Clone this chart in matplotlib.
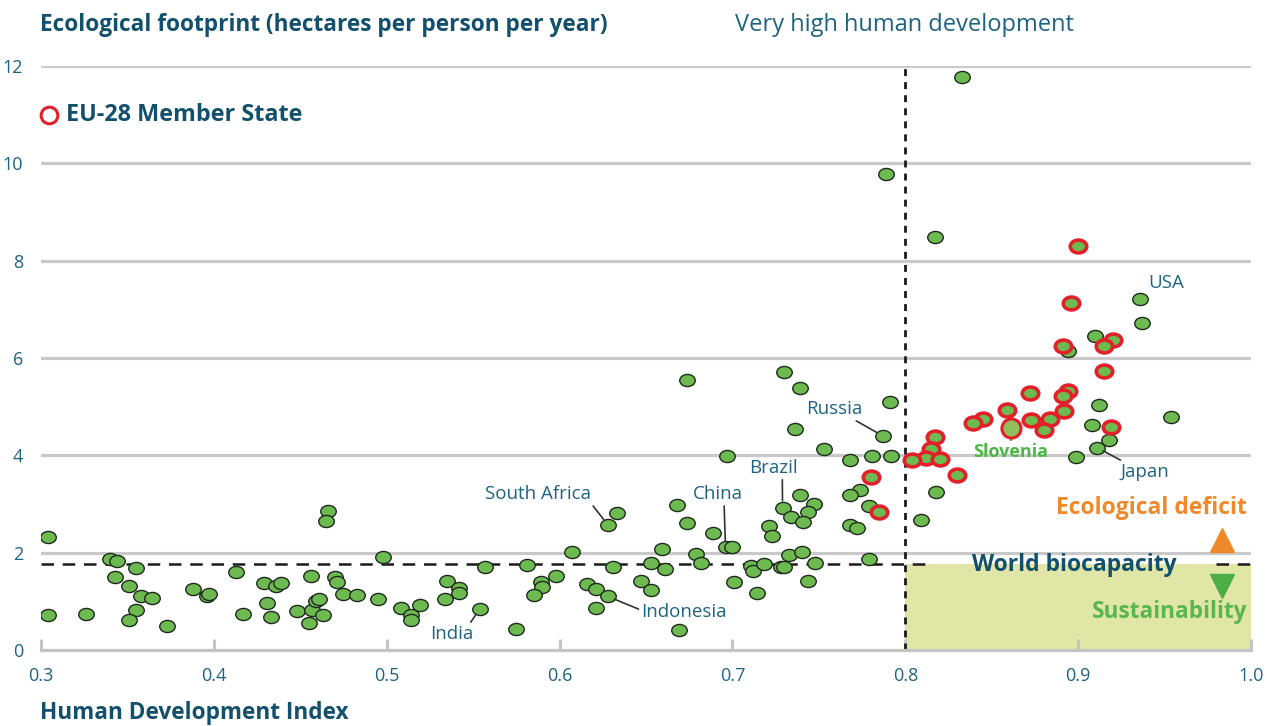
import numpy as np
import matplotlib
matplotlib.use('Agg')
import matplotlib.pyplot as plt
from matplotlib.path import Path
from matplotlib.transforms import Affine2D

# green: countries outside the EU-28
green_hdi = [0.304, 0.304, 0.326, 0.340, 0.344, 0.355, 0.343, 0.351, 0.358, 0.364,
             0.355, 0.351, 0.373, 0.388, 0.396, 0.397, 0.413, 0.417, 0.429, 0.436,
             0.439, 0.431, 0.433, 0.448, 0.456, 0.455, 0.457, 0.459, 0.461, 0.463,
             0.470, 0.471, 0.475, 0.466, 0.465,
             0.483, 0.495, 0.498, 0.508, 0.514, 0.514, 0.519, 0.535, 0.542, 0.542,
             0.534, 0.554, 0.557, 0.575, 0.581, 0.589, 0.590, 0.585, 0.598, 0.607,
             0.616, 0.621, 0.628, 0.621, 0.631, 0.633, 0.628, 0.653, 0.647, 0.653,
             0.659, 0.661, 0.669, 0.668, 0.674, 0.689, 0.696, 0.700, 0.679, 0.682,
             0.674, 0.697, 0.701, 0.711, 0.712, 0.718, 0.714, 0.721, 0.723, 0.729,
             0.734, 0.739, 0.747, 0.744, 0.741, 0.728, 0.730, 0.733, 0.740, 0.748,
             0.744, 0.730, 0.739, 0.736, 0.753, 0.791, 0.787, 0.768, 0.781, 0.792,
             0.774, 0.768, 0.779, 0.768, 0.772, 0.779, 0.789, 0.817, 0.833, 0.809,
             0.818,
             0.936, 0.937, 0.910, 0.894, 0.912, 0.954, 0.908, 0.918, 0.911, 0.899]
green_fp = [2.33, 0.71, 0.74, 1.86, 1.83, 1.68, 1.49, 1.31, 1.10, 1.07,
            0.82, 0.62, 0.49, 1.25, 1.11, 1.15, 1.60, 0.73, 1.38, 1.31,
            1.37, 0.97, 0.67, 0.81, 1.53, 0.56, 0.82, 1.01, 1.04, 0.71,
            1.49, 1.40, 1.15, 2.86, 2.66,
            1.12, 1.05, 1.92, 0.86, 0.71, 0.62, 0.92, 1.42, 1.27, 1.17,
            1.05, 0.85, 1.71, 0.43, 1.75, 1.40, 1.29, 1.14, 1.52, 2.01,
            1.36, 1.25, 1.10, 0.86, 1.71, 2.82, 2.57, 1.79, 1.42, 1.23,
            2.07, 1.67, 0.41, 2.98, 2.60, 2.40, 2.11, 2.11, 1.97, 1.78,
            5.55, 3.98, 1.39, 1.73, 1.62, 1.77, 1.18, 2.54, 2.34, 2.92,
            2.73, 3.19, 3.01, 2.84, 2.64, 1.70, 1.70, 1.95, 2.01, 1.79,
            1.41, 5.71, 5.38, 4.55, 4.14, 5.10, 4.40, 3.90, 3.99, 3.99,
            3.29, 3.18, 2.96, 2.56, 2.51, 1.87, 9.78, 8.49, 11.77, 2.68,
            3.24,
            7.22, 6.71, 6.45, 6.14, 5.03, 4.78, 4.63, 4.31, 4.16, 3.96]

# EU-28 member states (red ring)
eu_hdi = [0.900, 0.896, 0.920, 0.915, 0.891, 0.915, 0.872, 0.894, 0.891, 0.859,
          0.845, 0.839, 0.892, 0.884, 0.873, 0.880, 0.919, 0.817, 0.815, 0.812,
          0.820, 0.804, 0.830, 0.780, 0.785]
eu_fp = [8.30, 7.14, 6.36, 6.25, 6.25, 5.73, 5.29, 5.32, 5.22, 4.93,
         4.74, 4.66, 4.92, 4.74, 4.72, 4.53, 4.58, 4.38, 4.12, 3.94,
         3.93, 3.91, 3.59, 3.56, 2.83]

slovenia = (0.861, 4.56)
world_biocapacity = 1.77
very_high_hdi = 0.8

# named countries: label, point, label position
names = ['USA', 'Russia', 'Brazil', 'China', 'South Africa', 'Indonesia', 'India', 'Japan']
name_points = [(0.936, 7.22), (0.787, 4.40), (0.729, 2.92), (0.696, 2.11),
               (0.628, 2.57), (0.628, 1.10), (0.554, 0.85), (0.911, 4.16)]
name_text = [(0.951, 7.54), (0.759, 4.95), (0.7235, 3.74), (0.6914, 3.20),
             (0.5875, 3.20), (0.672, 0.78), (0.5375, 0.33), (0.9387, 3.66)]
name_relpos = [None, (0.8, 0.0), (0.69, 0.0), (0.63, 0.0),
               (1.0, 0.0), (0.0, 0.6), (0.9, 1.0), (0.1, 1.0)]

xticks = [0.3, 0.4, 0.5, 0.6, 0.7, 0.8, 0.9, 1.0]
yticks = [0, 2, 4, 6, 8, 10, 12]

teal = '#12506e'
label_col = '#1d6482'
green = '#6dba50'
red = '#e3202a'

plt.rcParams['font.family'] = ['Open Sans', 'DejaVu Sans']

fig = plt.figure(figsize=(12.67, 7.26), dpi=100)
ax = fig.add_axes([0.03236, 0.10468, 0.95501, 0.80441])
ax.set_xlim(0.3, 1.0)
ax.set_ylim(0, 12)

# slightly flattened circles
ellipse = Path.unit_circle().transformed(Affine2D().scale(1.0, 0.78))

# sustainability box
ax.fill_between([very_high_hdi, 1.0], 0, world_biocapacity, color='#dfe6a6', lw=0, zorder=1)

# grid
for y in yticks[1:]:
    ax.axhline(y, color='#c9c9c9', lw=2.3, zorder=0)

ax.plot([0.3, 0.816], [world_biocapacity] * 2, color='#1a1a1a', lw=1.8,
        dashes=(5, 3.5), zorder=2)
ax.plot([0.98, 1.0], [world_biocapacity] * 2, color='#1a1a1a', lw=1.8,
        dashes=(5, 3.5), zorder=2)
ax.plot([very_high_hdi] * 2, [0, 12], color='#1a1a1a', lw=2.0, dashes=(2.5, 2.2), zorder=2)

ax.scatter(green_hdi, green_fp, s=125, marker=ellipse, facecolor=green,
           edgecolor='#1f2a1f', linewidth=1.0, zorder=3)
ax.scatter(eu_hdi, eu_fp, s=140, marker=ellipse, facecolor=green,
           edgecolor=red, linewidth=2.6, zorder=4)
ax.scatter([slovenia[0]], [slovenia[1]], s=190, marker='o', facecolor='#8fbf5c',
           edgecolor=red, linewidth=2.2, zorder=5)

for name, pt, tp, rp in zip(names, name_points, name_text, name_relpos):
    if rp is None:
        ax.text(tp[0], tp[1], name, ha='center', va='center', fontsize=13.5, color=label_col)
    else:
        ax.annotate(name, xy=pt, xytext=tp, ha='center', va='center', fontsize=13.5,
                    color=label_col,
                    arrowprops=dict(arrowstyle='-', color='#333333', lw=1.2,
                                    relpos=rp, shrinkA=0, shrinkB=5))
ax.annotate('Slovenia', xy=slovenia, xytext=(0.8611, 4.07), ha='center', va='center',
            fontsize=13, fontweight='bold', color='#4db848',
            arrowprops=dict(arrowstyle='-', color='#333333', lw=1.2,
                            relpos=(0.5, 1.0), shrinkA=0, shrinkB=7))

# right-hand legend text
ax.text(0.9977, 2.92, 'Ecological deficit', ha='right', va='center', fontsize=16.5,
        fontweight='bold', color='#f0892a')
ax.plot([0.9832], [2.26], marker='^', markersize=17, color='#f0892a', clip_on=False)
ax.text(0.8976, 1.75, 'World biocapacity', ha='center', va='center', fontsize=16.5,
        fontweight='bold', color=teal, zorder=6)
ax.plot([0.9832], [1.315], marker='v', markersize=17, color='#4cae46')
ax.text(0.9977, 0.78, 'Sustainability', ha='right', va='center', fontsize=16.3,
        fontweight='bold', color='#5ab552')

ax.set_xticks(xticks)
ax.set_xticklabels(['0.3', '0.4', '0.5', '0.6', '0.7', '0.8', '0.9', '1.0'])
ax.set_yticks(yticks)
ax.tick_params(axis='x', direction='in', length=8, width=2.2, color='#c4c4c4',
               labelsize=13, labelcolor=label_col, pad=12)
ax.tick_params(axis='y', length=0, labelsize=13, labelcolor=label_col, pad=13)
for s in ['top', 'right', 'left']:
    ax.spines[s].set_visible(False)
ax.spines['bottom'].set_color('#c4c4c4')
ax.spines['bottom'].set_linewidth(2.3)

fig.text(40 / 1267, 1 - 25 / 726, 'Ecological footprint (hectares per person per year)',
         ha='left', va='center', fontsize=16.3, fontweight='bold', color=teal)
fig.text(904 / 1267, 1 - 25 / 726, 'Very high human development', ha='center', va='center',
         fontsize=17, color='#1d6482')
fig.text(66 / 1267, 1 - 115 / 726, 'EU-28 Member State', ha='left', va='center',
         fontsize=16.8, fontweight='bold', color=teal)
ax.plot([49 / 1267], [1 - 115 / 726], marker='o', markersize=12, mfc='none', mec=red,
        mew=2.2, transform=fig.transFigure, clip_on=False)
fig.text(40 / 1267, 1 - 713 / 726, 'Human Development Index', ha='left', va='center',
         fontsize=16.3, fontweight='bold', color=teal)

fig.savefig('out.png', dpi=100)
